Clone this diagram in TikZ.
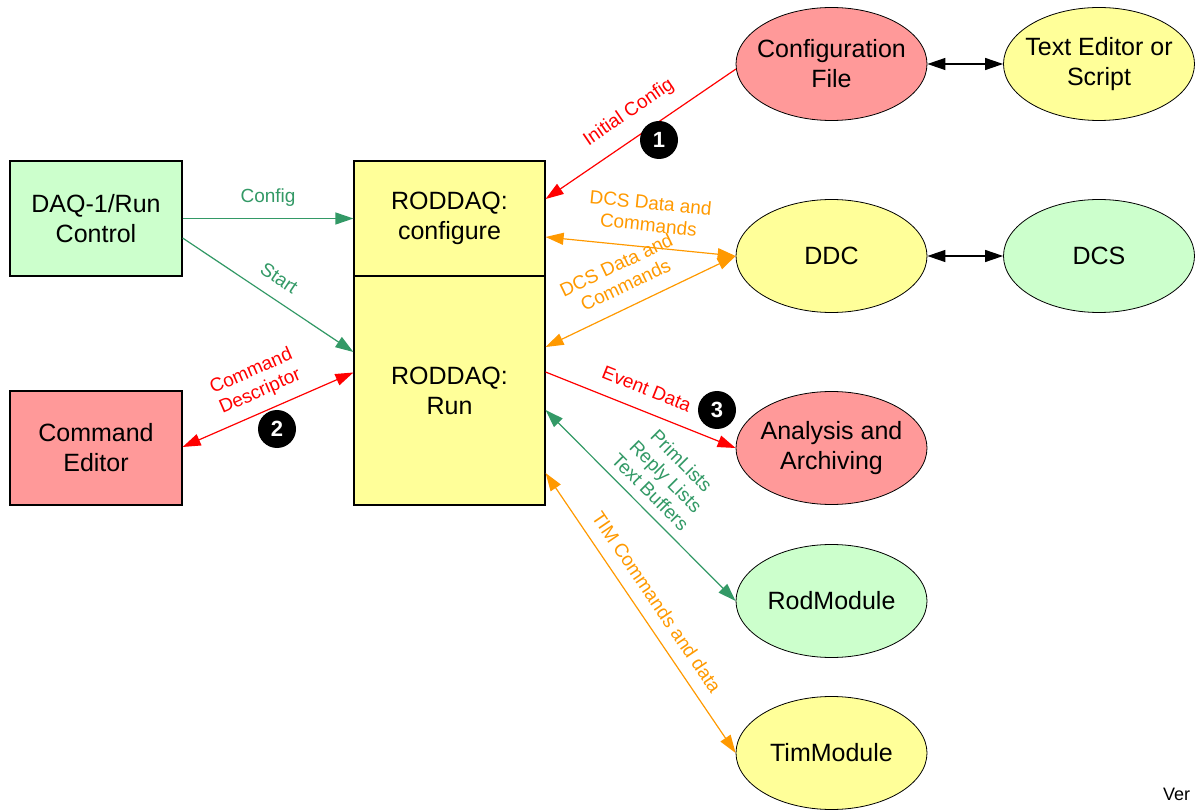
\documentclass[tikz,border=0pt]{standalone}
\usepackage{fontspec}
\setmainfont{Liberation Sans}
\usetikzlibrary{arrows.meta,shapes.geometric}
\definecolor{vgreen}{HTML}{339966}
\definecolor{vorange}{HTML}{FF9900}
\definecolor{vred}{HTML}{FF0000}
\definecolor{fgreen}{HTML}{CCFFCC}
\definecolor{fred}{HTML}{FF9999}
\definecolor{fyellow}{HTML}{FFFF99}
\begin{document}
\begin{tikzpicture}[x=1pt,y=-1pt,
  >={Triangle[length=18pt,width=12pt]},
  box/.style={rectangle, draw=black, line width=1.2pt, minimum width=172pt, minimum height=115pt, inner sep=0pt, align=center, font=\fontsize{25}{30}\selectfont},
  ell/.style={ellipse, draw=black, line width=0.8pt, minimum width=191pt, minimum height=113pt, inner sep=-15pt, align=center, font=\fontsize{25}{30}\selectfont},
  gline/.style={draw=vgreen, line width=1.2pt},
  oline/.style={draw=vorange, line width=1.2pt},
  rline/.style={draw=vred, line width=1.2pt},
  bline/.style={draw=black, line width=1.2pt},
  lbl/.style={sloped, inner sep=0pt, align=center, font=\fontsize{19}{22}\selectfont},
  badge/.style={circle, fill=black, minimum size=38pt, inner sep=0pt, text=white, font=\bfseries\fontsize{22}{22}\selectfont}
]
\useasboundingbox (0,0) rectangle (1195,810);
% boxes
\node[box, fill=fgreen] (daq) at (96,218.5) {DAQ-1/Run\\Control};
\node[box, fill=fred, minimum height=114pt] (cmd) at (96,448) {Command\\Editor};
\node[box, fill=fyellow, minimum width=191pt] (rc) at (449.5,218.5) {RODDAQ:\\configure};
\node[box, fill=fyellow, minimum width=191pt, minimum height=229pt] (rr) at (449.5,390.5) {RODDAQ:\\Run};
% ellipses
\node[ell, fill=fred] (cfg) at (831.5,64) {Configuration\\File};
\node[ell, fill=fyellow] (ted) at (1099,64) {Text Editor or\\Script};
\node[ell, fill=fyellow] (ddc) at (831.5,256) {DDC};
\node[ell, fill=fgreen] (dcs) at (1099,256) {DCS};
\node[ell, fill=fred] (ana) at (831.5,448) {Analysis and\\Archiving};
\node[ell, fill=fgreen] (rod) at (831.5,601) {RodModule};
\node[ell, fill=fyellow] (tim) at (831.5,753) {TimModule};
% connectors
\draw[gline,->] (daq.east) -- (rc.west) node[lbl,midway,above=11pt,text=vgreen]{Config};
\draw[gline,->] ([yshift=-19.5pt]daq.east) -- ([yshift=38.5pt]rr.west) node[lbl,pos=0.5,above=13pt,text=vgreen]{Start};
\draw[rline,<->] ([yshift=1pt]cmd.east) -- ([yshift=18pt]rr.west) node[lbl,pos=0.5,above=10pt,text=vred]{Command\\Descriptor};
\draw[rline,<-] ([yshift=19.5pt]rc.east) -- (cfg.183) node[lbl,pos=0.51,above=15pt,text=vred]{Initial Config};
\draw[oline,<->] ([yshift=-18.5pt]rc.east) -- (ddc.west) node[lbl,pos=0.53,above=15pt,text=vorange]{DCS Data and\\Commands};
\draw[oline,<->] ([yshift=43.5pt]rr.east) -- (ddc.west) node[lbl,pos=0.47,above=14pt,text=vorange]{DCS Data and\\Commands};
\draw[rline,->] ([yshift=18.5pt]rr.east) -- (ana.west) node[lbl,pos=0.49,above=14.5pt,text=vred]{Event Data};
\draw[gline,<->] ([yshift=-19.5pt]rr.east) -- (rod.west) node[lbl,pos=0.49,above=9pt,text=vgreen]{PrimLists\\Reply Lists\\Text Buffers};
\draw[oline,<->] ([yshift=-82.5pt]rr.east) -- (tim.west) node[lbl,pos=0.5,above=12pt,text=vorange]{TIM Commands and data};
\draw[bline,<->] (cfg.east) -- (ted.west);
\draw[bline,<->] (ddc.east) -- (dcs.west);
% badges
\node[badge] (b1) at (659,140) {1};
\node[badge] (b2) at (277,429) {2};
\node[badge] (b3) at (717,410) {3};
\node[anchor=base west, inner sep=0pt, font=\fontsize{18}{18}\selectfont] (ver) at (1163,800) {Ver};
\end{tikzpicture}
\end{document}
